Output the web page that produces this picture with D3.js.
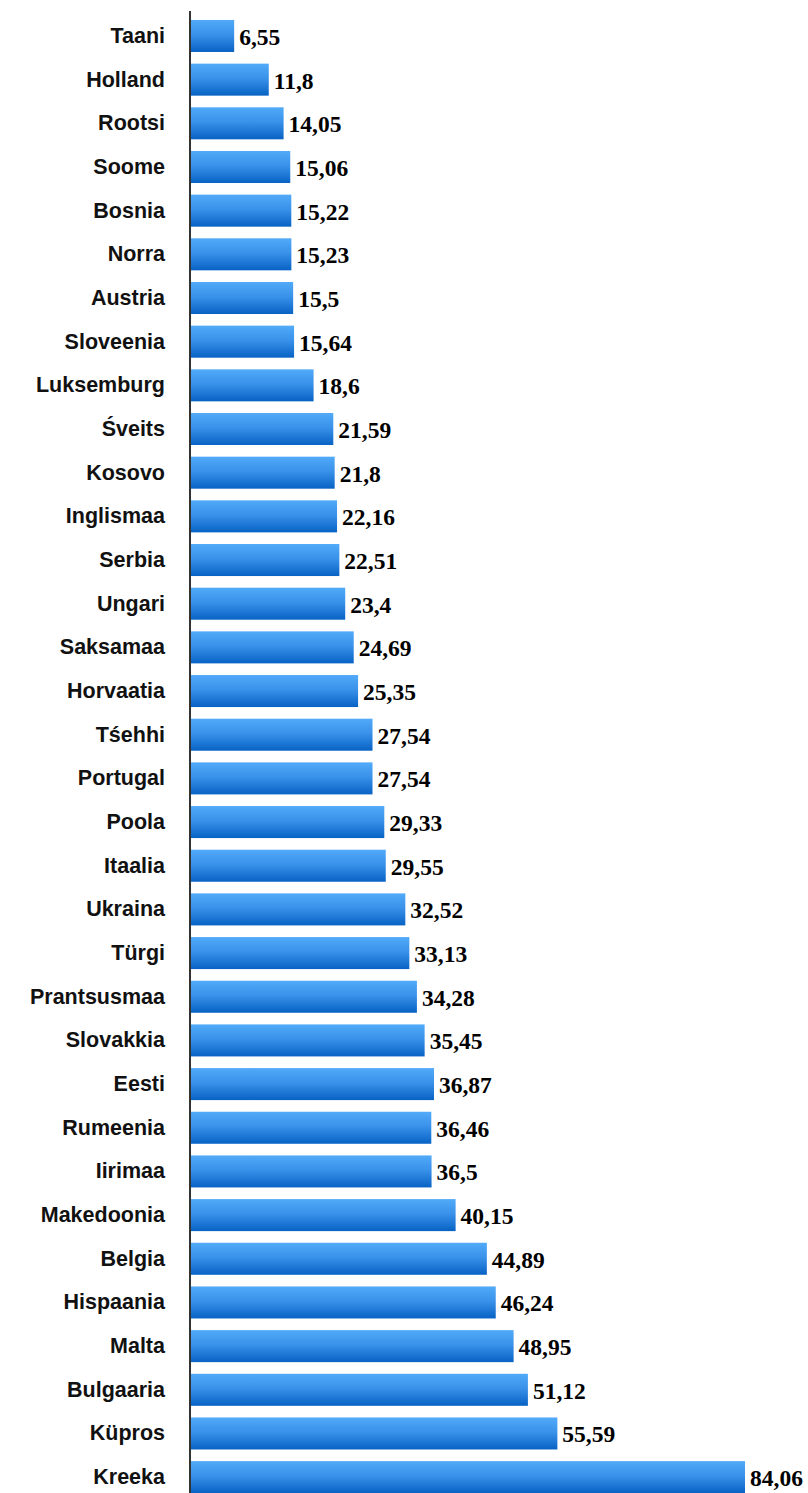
<!DOCTYPE html>
<html>
<head>
<meta charset="utf-8">
<script src="https://cdn.jsdelivr.net/npm/d3@7"></script>
<style>
  html, body { margin: 0; padding: 0; background: #fff; }
  svg { display: block; }
</style>
</head>
<body>
<svg id="chart" width="808" height="1493"></svg>
<script>
// Countries, top to bottom
const countries = [
  "Taani", "Holland", "Rootsi", "Soome", "Bosnia", "Norra", "Austria",
  "Sloveenia", "Luksemburg", "Śveits", "Kosovo", "Inglismaa", "Serbia",
  "Ungari", "Saksamaa", "Horvaatia", "Tśehhi", "Portugal", "Poola",
  "Itaalia", "Ukraina", "Türgi", "Prantsusmaa", "Slovakkia", "Eesti",
  "Rumeenia", "Iirimaa", "Makedoonia", "Belgia", "Hispaania", "Malta",
  "Bulgaaria", "Küpros", "Kreeka"
];

// Value per country, same order
const values = [
  6.55, 11.8, 14.05, 15.06, 15.22, 15.23, 15.5,
  15.64, 18.6, 21.59, 21.8, 22.16, 22.51,
  23.4, 24.69, 25.35, 27.54, 27.54, 29.33,
  29.55, 32.52, 33.13, 34.28, 35.45, 36.87,
  36.46, 36.5, 40.15, 44.89, 46.24, 48.95,
  51.12, 55.59, 84.06
];

const rows = countries.map((c, i) => ({ country: c, value: values[i] }));

const svg = d3.select("#chart");
const axisX = 190;

const y = d3.scaleBand()
  .domain(countries)
  .range([8.3, 1504.8])
  .padding(0.267);

const x = d3.scaleLinear()
  .domain([0, 84.06])
  .range([axisX + 1, 745]);

// Vertical bar gradient: light blue on top, deeper blue at the bottom
const defs = svg.append("defs");
const grad = defs.append("linearGradient")
  .attr("id", "barGrad")
  .attr("x1", 0).attr("y1", 0).attr("x2", 0).attr("y2", 1);
grad.append("stop").attr("offset", "0%").attr("stop-color", "#52aaf9");
grad.append("stop").attr("offset", "45%").attr("stop-color", "#3a92ea");
grad.append("stop").attr("offset", "100%").attr("stop-color", "#0762c4");

svg.append("g")
  .selectAll("rect")
  .data(rows)
  .join("rect")
  .attr("x", x(0))
  .attr("y", d => y(d.country))
  .attr("width", d => x(d.value) - x(0))
  .attr("height", y.bandwidth())
  .attr("fill", "url(#barGrad)");

// Category labels
svg.append("g")
  .selectAll("text")
  .data(rows)
  .join("text")
  .attr("x", 165)
  .attr("y", d => y(d.country) + y.bandwidth() / 2 + 7)
  .attr("text-anchor", "end")
  .style("font-family", "'Liberation Sans', Arial, sans-serif")
  .style("font-weight", "bold")
  .style("font-size", "21.5px")
  .attr("fill", "#111")
  .text(d => d.country);

// Value labels
const fmt = v => String(v).replace(".", ",");
svg.append("g")
  .selectAll("text")
  .data(rows)
  .join("text")
  .attr("x", d => x(d.value) + 5)
  .attr("y", d => y(d.country) + y.bandwidth() / 2 + 9)
  .attr("text-anchor", "start")
  .style("font-family", "'Liberation Serif', 'Times New Roman', serif")
  .style("font-weight", "bold")
  .style("font-size", "23.5px")
  .attr("fill", "#000")
  .text(d => fmt(d.value));

// Vertical category axis line
svg.append("line")
  .attr("x1", axisX).attr("x2", axisX)
  .attr("y1", 11).attr("y2", 1493)
  .attr("stroke", "#333")
  .attr("stroke-width", 2);
</script>
</body>
</html>
